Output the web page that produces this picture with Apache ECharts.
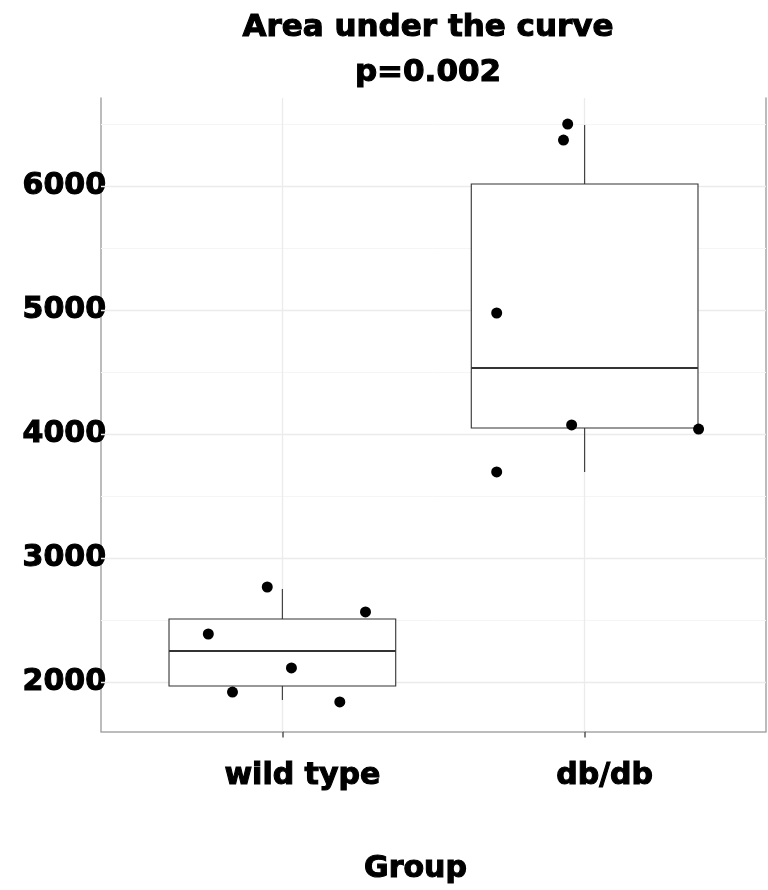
<!DOCTYPE html>
<html>
<head>
<meta charset="utf-8">
<script src="https://cdn.jsdelivr.net/npm/echarts@6/dist/echarts.min.js"></script>
<style>
  html, body { margin: 0; padding: 0; background: #fff; }
  #chart { width: 768px; height: 890px; }
</style>
</head>
<body>
<div id="chart"></div>
<script>
// groups on the x axis (positions 1 and 2)
var groups = ['wild type', 'db/db'];
// box stats per group: [lower whisker, Q1, median, Q3, upper whisker]
var boxStats = [
  [1855, 1968, 2250, 2508, 2750],
  [3694, 4048, 4532, 6016, 6492]
];
// jittered points: [x position, value]
var wildPoints = [[0.95, 2766], [0.755, 2387], [1.03, 2113], [0.835, 1919], [1.19, 1839], [1.275, 2565]];
var dbPoints = [[1.944, 6500], [1.93, 6371], [1.709, 4976], [1.957, 4073], [2.377, 4040], [1.709, 3694]];
var yTicks = [2000, 3000, 4000, 5000, 6000];
var yMinor = [2500, 3500, 4500, 5500, 6500];

var font = 'DejaVu Sans';
// heavy black text, thickened a little with a stroke
var heavy = { fontFamily: font, fontWeight: 'bold', color: '#000', textBorderColor: '#000', textBorderWidth: 1.1 };
var chart = echarts.init(document.getElementById('chart'));

var boxData = boxStats.map(function (s, i) { return [i + 1].concat(s); });

function renderBox(params, api) {
  var x = api.value(0);
  var half = 0.375;
  var lo = api.coord([x, api.value(1)]);
  var q1 = api.coord([x, api.value(2)]);
  var med = api.coord([x, api.value(3)]);
  var q3 = api.coord([x, api.value(4)]);
  var hi = api.coord([x, api.value(5)]);
  var left = api.coord([x - half, api.value(3)])[0];
  var right = api.coord([x + half, api.value(3)])[0];
  var stroke = { stroke: '#333', lineWidth: 1.1 };
  return {
    type: 'group',
    children: [
      { type: 'line', shape: { x1: q3[0], y1: q3[1], x2: hi[0], y2: hi[1] }, style: stroke },
      { type: 'line', shape: { x1: q1[0], y1: q1[1], x2: lo[0], y2: lo[1] }, style: stroke },
      { type: 'rect', shape: { x: left, y: q3[1], width: right - left, height: q1[1] - q3[1] },
        style: { fill: '#fff', stroke: '#333', lineWidth: 1.1 } },
      { type: 'line', shape: { x1: left, y1: med[1], x2: right, y2: med[1] },
        style: { stroke: '#333', lineWidth: 2 } }
    ]
  };
}

function gridLines(values, axis, color, width) {
  return values.map(function (v) {
    var o = {}; o[axis] = v;
    o.lineStyle = { color: color, width: width, type: 'solid' };
    return o;
  });
}

chart.setOption({
  animation: false,
  title: {
    text: 'Area under the curve\np=0.002',
    left: 423,
    top: 0,
    textAlign: 'center',
    textStyle: Object.assign({ fontSize: 31, lineHeight: 45 }, heavy)
  },
  grid: { left: 101, right: 2, top: 98, bottom: 158 },
  xAxis: {
    type: 'value',
    min: 0.4,
    max: 2.6,
    name: 'Group',
    nameLocation: 'middle',
    nameGap: 123,
    nameTextStyle: Object.assign({ fontSize: 30, padding: [0, 36, 0, 0] }, heavy),
    axisLine: { lineStyle: { color: '#a6a6a6', width: 1.5 } },
    axisTick: { show: true, length: 6, customValues: [1, 2], lineStyle: { color: '#555', width: 1.5 } },
    axisLabel: Object.assign({
      customValues: [1, 2],
      margin: 30,
      fontSize: 30,
      padding: [0, 0, 0, 40],
      formatter: function (v) { return groups[Math.round(v) - 1] || ''; }
    }, heavy),
    splitLine: { show: false }
  },
  yAxis: [{
    type: 'value',
    min: 1601,
    max: 6710,
    axisLine: { show: true, lineStyle: { color: '#a6a6a6', width: 1.5 } },
    axisTick: { show: false },
    axisLabel: Object.assign({
      customValues: yTicks,
      margin: -5,
      fontSize: 30,
      formatter: function (v) { return String(v); }
    }, heavy),
    splitLine: { show: false }
  }, {
    type: 'value',
    position: 'right',
    min: 1601,
    max: 6710,
    axisLine: { show: true, lineStyle: { color: '#a6a6a6', width: 1.5 } },
    axisTick: { show: false },
    axisLabel: { show: false },
    splitLine: { show: false }
  }],
  series: [{
    type: 'scatter',
    data: [],
    z: 1,
    silent: true,
    markLine: {
      z: 1,
      silent: true,
      symbol: ['none', 'none'],
      label: { show: false },
      data: gridLines(yMinor, 'yAxis', '#f5f5f5', 1)
        .concat(gridLines(yTicks, 'yAxis', '#ebebeb', 1.3))
        .concat(gridLines([1, 2], 'xAxis', '#ebebeb', 1.3))
    }
  }, {
    type: 'custom',
    z: 3,
    data: boxData,
    renderItem: renderBox,
    encode: { x: 0, y: [1, 2, 3, 4, 5] }
  }, {
    type: 'scatter',
    z: 4,
    data: wildPoints,
    symbolSize: 11,
    itemStyle: { color: '#000', opacity: 1 }
  }, {
    type: 'scatter',
    z: 4,
    data: dbPoints,
    symbolSize: 11,
    itemStyle: { color: '#000', opacity: 1 }
  }]
});
</script>
</body>
</html>
